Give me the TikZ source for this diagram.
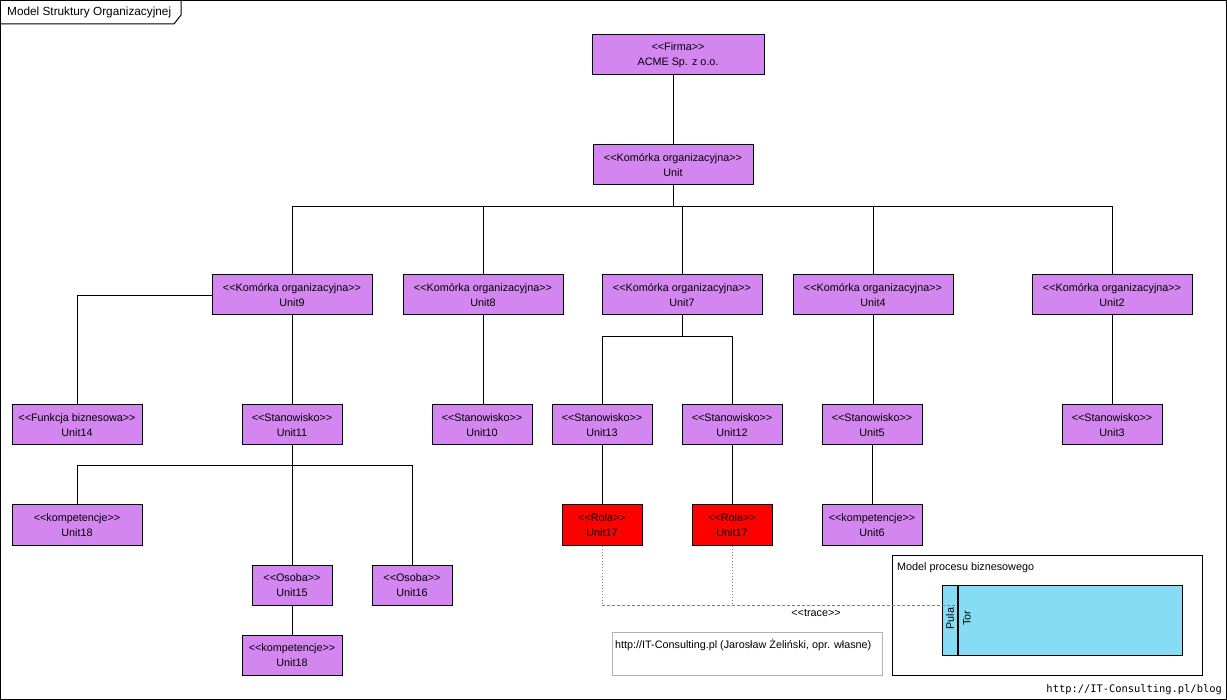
\documentclass[tikz,border=0pt]{standalone}
\usepackage{fontspec}
\setmainfont{Liberation Sans}
\newfontfamily\footmono{DejaVu Sans Mono}
\newcommand\sopen{<\kern0pt<}
\newcommand\sclose{>\kern0pt>}
\begin{document}
\begin{tikzpicture}[x=1pt,y=-1pt,
  txt/.style={font=\fontsize{10.8}{15}\selectfont},
  purp/.style={draw=black,line width=1pt,fill=boxpurple,inner sep=0pt,minimum height=40pt,align=center,txt},
  rola/.style={purp,fill=red},
  conn/.style={draw=black,line width=0.9pt},
  tracev/.style={draw=gray,line width=0.9pt,dash pattern=on 1pt off 2pt},
  traceh/.style={draw=gray,line width=0.9pt,dash pattern=on 3pt off 2pt}]
\definecolor{boxpurple}{RGB}{212,134,240}
\definecolor{poolblue}{RGB}{135,220,245}
\useasboundingbox (0,0) rectangle (1227,700);
% outer frame and title tab
\draw[line width=1pt] (0.5,0.5) rectangle (1226,699.5);
\draw[line width=1pt] (0.5,24) -- (174,24) -- (181,15) -- (181,0.5);
\node[anchor=west,font=\fontsize{11.8}{13}\selectfont,inner sep=0pt] (title) at (7,12) {Model Struktury Organizacyjnej};

% nodes
\node[purp,minimum width=172pt] (firma) at (678,55) {\sopen Firma\sclose\\ACME Sp. z o.o.};
\node[purp,minimum width=160pt] (unit) at (673,165) {\sopen Komórka organizacyjna\sclose\\Unit};
\node[purp,minimum width=160pt] (u9) at (292,295) {\sopen Komórka organizacyjna\sclose\\Unit9};
\node[purp,minimum width=160pt] (u8) at (483,295) {\sopen Komórka organizacyjna\sclose\\Unit8};
\node[purp,minimum width=160pt] (u7) at (682,295) {\sopen Komórka organizacyjna\sclose\\Unit7};
\node[purp,minimum width=160pt] (u4) at (873,295) {\sopen Komórka organizacyjna\sclose\\Unit4};
\node[purp,minimum width=160pt] (u2) at (1112,295) {\sopen Komórka organizacyjna\sclose\\Unit2};
\node[purp,minimum width=130pt] (u14) at (77,425) {\sopen Funkcja biznesowa\sclose\\Unit14};
\node[purp,minimum width=100pt] (u11) at (292,425) {\sopen Stanowisko\sclose\\Unit11};
\node[purp,minimum width=100pt] (u10) at (482,425) {\sopen Stanowisko\sclose\\Unit10};
\node[purp,minimum width=100pt] (u13) at (602,425) {\sopen Stanowisko\sclose\\Unit13};
\node[purp,minimum width=100pt] (u12) at (732,425) {\sopen Stanowisko\sclose\\Unit12};
\node[purp,minimum width=100pt] (u5) at (872,425) {\sopen Stanowisko\sclose\\Unit5};
\node[purp,minimum width=100pt] (u3) at (1112,425) {\sopen Stanowisko\sclose\\Unit3};
\node[purp,minimum width=130pt] (u18a) at (77,525) {\sopen kompetencje\sclose\\Unit18};
\node[rola,minimum width=80pt] (r1) at (602,525) {\sopen Rola\sclose\\Unit17};
\node[rola,minimum width=80pt] (r2) at (732,525) {\sopen Rola\sclose\\Unit17};
\node[purp,minimum width=100pt] (u6) at (872,525) {\sopen kompetencje\sclose\\Unit6};
\node[purp,minimum width=80pt] (u15) at (292,585) {\sopen Osoba\sclose\\Unit15};
\node[purp,minimum width=80pt] (u16) at (412,585) {\sopen Osoba\sclose\\Unit16};
\node[purp,minimum width=100pt] (u18b) at (292,655) {\sopen kompetencje\sclose\\Unit18};

% bus coordinates
\coordinate (b1) at (673,206);
\coordinate (b7) at (682,336);
\coordinate (b11) at (292,465);

% connectors
\draw[conn] (unit.north) -- (unit.north |- firma.south);
\draw[conn] (unit.south) -- (b1);
\draw[conn] (u9.north) |- (b1);
\draw[conn] (u2.north) |- (b1);
\draw[conn] (u8.north) -- (u8.north |- b1);
\draw[conn] (u7.north) -- (u7.north |- b1);
\draw[conn] (u4.north) -- (u4.north |- b1);
\draw[conn] (u9.west) -| (u14.north);
\draw[conn] (u9.south) -- (u11.north);
\draw[conn] (u8.south) -- (u8.south |- u10.north);
\draw[conn] (u7.south) -- (b7);
\draw[conn] (u13.north) |- (b7);
\draw[conn] (u12.north) |- (b7);
\draw[conn] (u4.south) -- (u4.south |- u5.north);
\draw[conn] (u2.south) -- (u3.north);
\draw[conn] (u11.south) -- (u15.north);
\draw[conn] (u18a.north) |- (b11);
\draw[conn] (u16.north) |- (b11);
\draw[conn] (u15.south) -- (u18b.north);
\draw[conn] (u13.south) -- (r1.north);
\draw[conn] (u12.south) -- (r2.north);
\draw[conn] (u5.south) -- (u6.north);

% process model frame and pool
\node[draw=black,line width=1pt,minimum width=310pt,minimum height=120pt,inner sep=0pt] (model) at (1047,615) {};
\node[anchor=north west,inner sep=0pt,txt] (modeltitle) at (897,562) {Model procesu biznesowego};
\node[draw=black,line width=1pt,fill=poolblue,minimum width=240pt,minimum height=70pt,inner sep=0pt] (pool) at (1062,620) {};
\draw[line width=2pt] (958,585) -- (958,655);
\node[rotate=90,txt,inner sep=0pt] (pula) at (950,617) {Pula:};
\node[rotate=90,txt,inner sep=0pt] (tor) at (967,618) {Tor};

% trace
\coordinate (tr) at (956,605);
\draw[tracev] (r1.south) -- (r1.south |- tr);
\draw[tracev] (r2.south) -- (r2.south |- tr);
\draw[traceh] (r1.south |- tr) -- (tr);
\node[txt,inner sep=0pt] (tracelbl) at (816,613) {\sopen trace\sclose};

% note
\node[draw=gray!60,line width=1pt,minimum width=270pt,minimum height=43pt,inner sep=0pt] (note) at (747,654) {};
\node[anchor=north west,inner sep=0pt,txt] (notetext) at (615,639) {http://IT-Consulting.pl (Jarosław Żeliński, opr. własne)};

% footer
\node[anchor=base east,inner sep=0pt,font=\footmono\fontsize{10.4}{12}\selectfont] (footer) at (1222,692) {http://IT-Consulting.pl/blog};
\end{tikzpicture}
\end{document}
